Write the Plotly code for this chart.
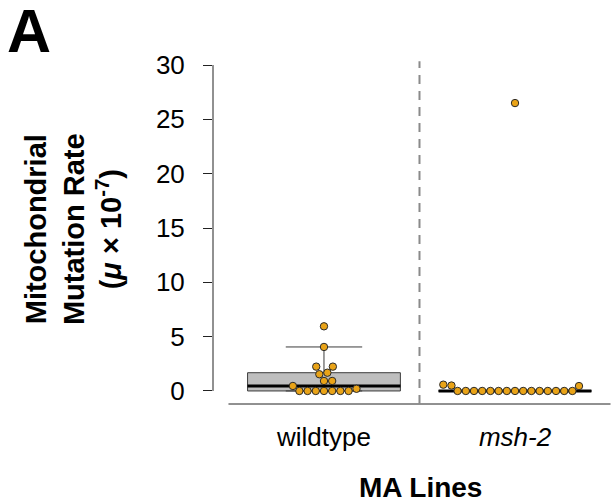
import numpy as np
import plotly.graph_objects as go

# ---- data ----
groups = ["wildtype", "msh-2"]
group_labels = ["wildtype", "<i>msh-2</i>"]
wildtype_rates = [0, 0, 0, 0, 0, 0, 0, 0.2, 0.46, 0.92, 0.92, 1.54, 1.68, 2.24, 2.24, 4.05, 5.95]
msh2_rates = [0, 0, 0, 0, 0, 0, 0, 0, 0, 0, 0, 0, 0, 0, 0, 0.45, 0.5, 0.58, 26.5]
series = [wildtype_rates, msh2_rates]
y_ticks = [0, 5, 10, 15, 20, 25, 30]

# ---- layout geometry ----
W, H = 613, 502
ML, MR, MT, MB = 213, 0, 52, 98
XR = [0.419, 2.513]
YR = [-1.2, 31.2]
PW, PH = W - ML - MR, H - MT - MB
px_x = PW / (XR[1] - XR[0])
px_y = PH / (YR[1] - YR[0])
DIAM = 8.2  # px, collision diameter for beeswarm
DOT_COLOR = "#E9A317"


def fivenum(v):
    s = np.sort(np.asarray(v, float))
    n = len(s)
    n4 = np.floor((n + 3) / 2) / 2
    d = np.array([1, n4, (n + 1) / 2, n + 1 - n4, n]) - 1
    return 0.5 * (s[np.floor(d).astype(int)] + s[np.ceil(d).astype(int)])


def swarm_offsets(v):
    """R beeswarm 'swarm' style offsets (in data units), ascending priority."""
    v = np.asarray(v, float)
    order = np.argsort(v, kind="stable")
    placed = []
    out = np.zeros(len(v))
    for i in order:
        y = v[i] * px_y
        cands = [0.0]
        pos, neg = [], []
        for (px, py) in placed:
            dy = y - py
            if abs(dy) < DIAM:
                dx = np.sqrt(DIAM ** 2 - dy ** 2)
                pos.append(px + dx)
                neg.append(px - dx)
        cands += pos + neg
        ok = [c for c in cands
              if all((c - px) ** 2 + (y - py) ** 2 >= DIAM ** 2 - 1e-6 for (px, py) in placed)]
        best = min(ok, key=lambda c: abs(c))
        out[i] = best
        placed.append((best, y))
    return out / px_x


fig = go.Figure()

# boxes (R boxplot statistics)
for gi, vals in enumerate(series):
    xpos = gi + 1
    q0, q1, med, q3, q4 = fivenum(vals)
    iqr = q3 - q1
    arr = np.asarray(vals, float)
    upper = arr[arr <= q3 + 1.5 * iqr].max()
    lower = arr[arr >= q1 - 1.5 * iqr].min()
    fig.add_trace(go.Box(
        x=[xpos], q1=[q1], median=[med], q3=[q3],
        lowerfence=[lower], upperfence=[upper],
        width=0.8, whiskerwidth=0.5,
        fillcolor="#BEBEBE", line=dict(color="#3C3C3C", width=1),
        boxpoints=False, showlegend=False, hoverinfo="skip",
    ))
    fig.add_trace(go.Scatter(
        x=[xpos - 0.4, xpos + 0.4], y=[med, med], mode="lines",
        line=dict(color="black", width=3), showlegend=False, hoverinfo="skip",
    ))

# beeswarm points
for gi, vals in enumerate(series):
    xpos = gi + 1
    offs = swarm_offsets(vals)
    fig.add_trace(go.Scatter(
        x=xpos + offs, y=vals, mode="markers",
        marker=dict(size=7.4, color=DOT_COLOR, line=dict(color="#2A2A2A", width=1)),
        showlegend=False, cliponaxis=False, name=groups[gi],
    ))

shapes = [
    dict(type="line", xref="paper", yref="y", x0=0, x1=0, y0=y_ticks[0], y1=y_ticks[-1],
         line=dict(color="#222", width=1)),
    dict(type="line", xref="x", yref="paper", x0=0.5, x1=2.5, y0=0, y1=0,
         line=dict(color="#222", width=1)),
    dict(type="line", xref="x", yref="paper", x0=1.5, x1=1.5, y0=0, y1=0.974,
         line=dict(color="#8A8A8A", width=2, dash="9px,7px")),
]

annotations = [
    dict(text="<b>A</b>", xref="paper", yref="paper", x=(5 - ML) / PW,
         y=(H - MB - 31) / PH, xanchor="left", yanchor="middle",
         showarrow=False, font=dict(size=61, color="black", family="Liberation Sans, Arial")),
    dict(text="<b>Mitochondrial<br>Mutation Rate<br>(<i>μ</i> × 10<sup>-7</sup>)</b>",
         xref="paper", yref="paper", x=(73 - ML) / PW, y=0.497,
         xanchor="center", yanchor="middle", textangle=-90, showarrow=False,
         font=dict(size=29, color="black", family="Liberation Sans, Arial")),
    dict(text="<b>MA Lines</b>", xref="paper", yref="paper", x=(420 - ML) / PW,
         y=-(487 - (H - MB)) / PH, xanchor="center", yanchor="middle", showarrow=False,
         font=dict(size=28, color="black", family="Liberation Sans, Arial")),
]

fig.update_layout(
    width=W, height=H,
    margin=dict(l=ML, r=MR, t=MT, b=MB, autoexpand=False),
    plot_bgcolor="white", paper_bgcolor="white",
    font=dict(family="Liberation Sans, Arial", color="black"),
    shapes=shapes, annotations=annotations,
    xaxis=dict(range=XR, tickmode="array", tickvals=[1, 2], ticktext=group_labels,
               showgrid=False, zeroline=False, showline=False, automargin=False,
               ticks="outside", ticklen=10, tickcolor="rgba(0,0,0,0)",
               tickfont=dict(size=26)),
    yaxis=dict(range=YR, tickmode="array", tickvals=y_ticks,
               showgrid=False, zeroline=False, showline=False, automargin=False,
               ticks="outside", ticklen=9, tickcolor="#222", tickwidth=1,
               ticklabelstandoff=13,
               tickfont=dict(size=26)),
)

fig.write_html("out.html", config={"displayModeBar": False},
               post_script="document.body.style.margin='0';document.body.style.overflow='hidden';")
